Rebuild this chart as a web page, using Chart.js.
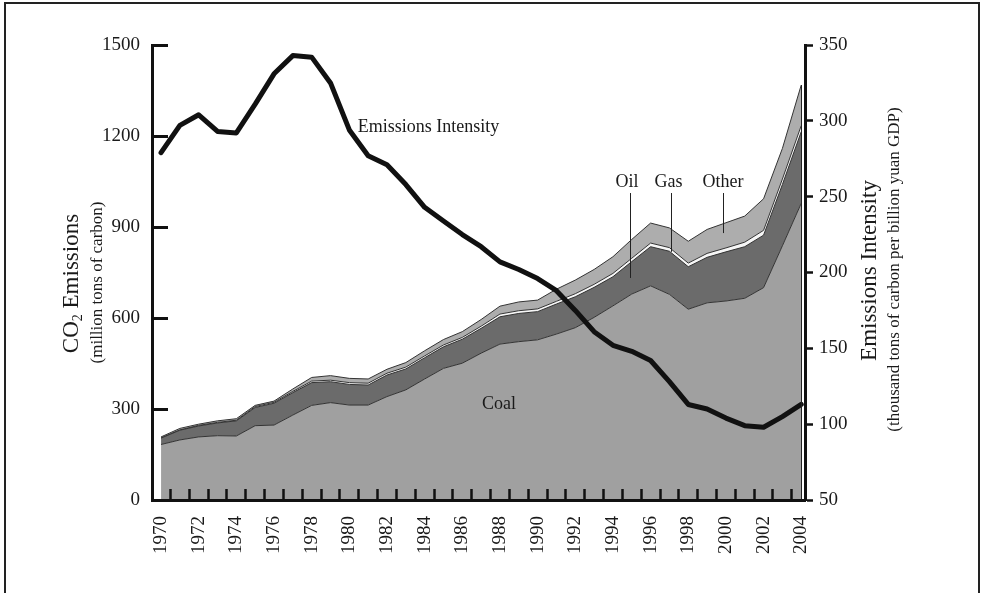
<!DOCTYPE html>
<html>
<head>
<meta charset="utf-8">
<script src="https://cdn.jsdelivr.net/npm/chart.js@4.4.1/dist/chart.umd.min.js"></script>
<style>
  html, body { margin: 0; padding: 0; background: #fff; }
  #wrap { position: relative; width: 982px; height: 593px; overflow: hidden; }
  #frame { position: absolute; left: 4px; top: 2px; width: 972px; height: 640px; border: 2px solid #222; }
  canvas { position: absolute; left: 0; top: 0; }
</style>
</head>
<body>
<div id="wrap">
  <div id="frame"></div>
  <canvas id="emissionsChart" width="982" height="593"></canvas>
</div>
<script>
const years = [1970, 1971, 1972, 1973, 1974, 1975, 1976, 1977, 1978, 1979,
  1980, 1981, 1982, 1983, 1984, 1985, 1986, 1987, 1988, 1989,
  1990, 1991, 1992, 1993, 1994, 1995, 1996, 1997, 1998, 1999,
  2000, 2001, 2002, 2003, 2004];

// million tons of carbon
const coal = [183, 198, 208, 212, 211, 245, 247, 280, 312, 321,
  313, 313, 341, 363, 399, 434, 451, 484, 514, 522,
  528, 547, 568, 602, 640, 679, 706, 678, 629, 650,
  656, 665, 700, 838, 978];
const oil = [21, 32, 36, 42, 50, 60, 72, 74, 75, 69,
  68, 66, 71, 69, 70, 71, 79, 82, 90, 93,
  93, 99, 102, 99, 96, 107, 129, 142, 140, 150,
  162, 170, 173, 202, 236];
const gas = [1, 1, 2, 2, 2, 3, 3, 4, 5, 5,
  6, 6, 6, 6, 6, 6, 6, 7, 9, 9,
  9, 9, 10, 10, 11, 11, 12, 12, 12, 13,
  13, 15, 16, 18, 20];
const other = [3, 5, 4, 5, 5, 4, 4, 8, 12, 15,
  14, 14, 13, 15, 17, 18, 19, 22, 26, 29,
  29, 40, 45, 49, 55, 62, 66, 65, 72, 79,
  83, 86, 104, 101, 134];

// thousand tons of carbon per billion yuan GDP
const intensity = [279, 297, 304, 293, 292, 311, 331, 343, 342, 325,
  294, 277, 271, 258, 243, 234, 225, 217, 207, 202,
  196, 188, 175, 161, 152, 148, 142, 128, 113, 110,
  104, 99, 98, 105, 113];

const emissionTicks = [0, 300, 600, 900, 1200, 1500];
const intensityTicks = [50, 100, 150, 200, 250, 300, 350];

// in-chart labels, placed in data units: [text, year, value, axis]
const seriesLabels = [
  ['Emissions Intensity', 1980.45, 296, 'y2', 'left'],
  ['Coal', 1987.95, 316, 'y', 'center'],
  ['Oil', 1994.75, 1048, 'y', 'center'],
  ['Gas', 1996.95, 1048, 'y', 'center'],
  ['Other', 1999.85, 1048, 'y', 'center']
];
// leader lines: [year, from value, to value]
const leaders = [
  [1994.9, 1012, 732],
  [1997.1, 1012, 818],
  [1999.85, 1012, 880]
];

const serif = "'Liberation Serif', 'DejaVu Serif', serif";
const ink = '#1a1a1a';

const pts = arr => arr.map((v, i) => ({ x: years[i], y: v }));

function area(label, values, color, fill) {
  return {
    label: label,
    data: pts(values),
    yAxisID: 'y',
    backgroundColor: color,
    borderColor: '#333',
    borderWidth: 1,
    fill: fill,
    pointRadius: 0,
    tension: 0
  };
}

const annotate = {
  id: 'annotate',
  afterDatasetsDraw(chart) {
    const ctx = chart.ctx;
    const x = chart.scales.x;
    ctx.save();
    ctx.fillStyle = ink;
    ctx.strokeStyle = '#222';
    ctx.font = '18px ' + serif;
    ctx.textBaseline = 'middle';
    seriesLabels.forEach(([text, yr, val, axis, align]) => {
      ctx.textAlign = align;
      ctx.fillText(text, x.getPixelForValue(yr), chart.scales[axis].getPixelForValue(val));
    });
    ctx.lineWidth = 1;
    leaders.forEach(([yr, v1, v2]) => {
      const px = Math.round(x.getPixelForValue(yr)) + 0.5;
      ctx.beginPath();
      ctx.moveTo(px, chart.scales.y.getPixelForValue(v1));
      ctx.lineTo(px, chart.scales.y.getPixelForValue(v2));
      ctx.stroke();
    });
    // closing edge of the stacked area at the last year
    const last = years.length - 1;
    const top = coal[last] + oil[last] + gas[last] + other[last];
    const ex = Math.round(x.getPixelForValue(years[last])) + 0.5;
    ctx.beginPath();
    ctx.moveTo(ex, chart.scales.y.getPixelForValue(top));
    ctx.lineTo(ex, chart.scales.y.getPixelForValue(0));
    ctx.stroke();
    ctx.restore();
  },
  afterDraw(chart) {
    const ctx = chart.ctx;
    const area = chart.chartArea;
    const midY = (area.top + area.bottom) / 2;
    ctx.save();
    ctx.fillStyle = ink;
    ctx.textAlign = 'center';
    ctx.textBaseline = 'middle';

    // left title: CO2 Emissions with subscript
    ctx.save();
    ctx.translate(area.left - 80, midY + 11);
    ctx.rotate(-Math.PI / 2);
    const big = '23px ' + serif;
    const sub = '14px ' + serif;
    ctx.font = big;
    const wCO = ctx.measureText('CO').width;
    const wRest = ctx.measureText(' Emissions').width;
    ctx.font = sub;
    const w2 = ctx.measureText('2').width;
    let start = -(wCO + w2 + wRest) / 2;
    ctx.textAlign = 'left';
    ctx.font = big;
    ctx.fillText('CO', start, 0);
    ctx.font = sub;
    ctx.fillText('2', start + wCO, 6);
    ctx.font = big;
    ctx.fillText(' Emissions', start + wCO + w2, 0);
    ctx.restore();

    ctx.save();
    ctx.translate(area.left - 54, midY + 10);
    ctx.rotate(-Math.PI / 2);
    ctx.font = '17px ' + serif;
    ctx.fillText('(million tons of carbon)', 0, 0);
    ctx.restore();

    // right title
    ctx.save();
    ctx.translate(area.right + 65, midY - 2);
    ctx.rotate(-Math.PI / 2);
    ctx.font = '23px ' + serif;
    ctx.fillText('Emissions Intensity', 0, 0);
    ctx.restore();

    ctx.save();
    ctx.translate(area.right + 90, midY - 3);
    ctx.rotate(-Math.PI / 2);
    ctx.font = '17px ' + serif;
    ctx.fillText('(thousand tons of carbon per billion yuan GDP)', 0, 0);
    ctx.restore();

    ctx.restore();
  }
};

const chart = new Chart(document.getElementById('emissionsChart'), {
  type: 'line',
  data: {
    datasets: [
      {
        label: 'Emissions Intensity',
        data: pts(intensity),
        yAxisID: 'y2',
        borderColor: '#111',
        borderWidth: 5,
        borderCapStyle: 'round',
        borderJoinStyle: 'round',
        fill: false,
        pointRadius: 0,
        tension: 0
      },
      area('Coal', coal, '#a0a0a0', 'origin'),
      area('Oil', oil, '#6b6b6b', '-1'),
      area('Gas', gas, '#f6f6f6', '-1'),
      area('Other', other, '#adadad', '-1')
    ]
  },
  options: {
    responsive: false,
    animation: false,
    layout: { padding: { top: 45, left: 0, right: 0, bottom: 0 } },
    plugins: {
      legend: { display: false },
      tooltip: { enabled: false }
    },
    scales: {
      x: {
        type: 'linear',
        min: 1969.52,
        max: 2004.2,
        afterBuildTicks: s => { s.ticks = years.map(v => ({ value: v })); },
        afterFit: s => { s.height = 93; },
        ticks: {
          autoSkip: false,
          minRotation: 90,
          maxRotation: 90,
          padding: 27,
          color: ink,
          font: { family: serif, size: 19 },
          callback: v => (v % 2 === 0 ? String(v) : '')
        },
        grid: {
          z: 1,
          offset: true,
          drawOnChartArea: false,
          tickLength: -11,
          tickWidth: 2.5,
          tickColor: '#111'
        },
        border: { z: 1, color: '#111', width: 3 }
      },
      y: {
        type: 'linear',
        position: 'left',
        stacked: true,
        min: 0,
        max: 1500,
        afterBuildTicks: s => { s.ticks = emissionTicks.map(v => ({ value: v })); },
        afterFit: s => { s.width = 152; },
        ticks: {
          padding: 28,
          color: ink,
          font: { family: serif, size: 19 },
          callback: v => String(v)
        },
        grid: {
          z: 1,
          drawOnChartArea: false,
          tickLength: -16,
          tickWidth: 3,
          tickColor: '#111'
        },
        border: { z: 1, color: '#111', width: 3 }
      },
      y2: {
        type: 'linear',
        position: 'right',
        min: 50,
        max: 350,
        afterBuildTicks: s => { s.ticks = intensityTicks.map(v => ({ value: v })); },
        afterFit: s => { s.width = 177; },
        ticks: {
          padding: 6,
          color: ink,
          font: { family: serif, size: 19 },
          callback: v => String(v)
        },
        grid: {
          z: 1,
          drawOnChartArea: false,
          tickLength: 8,
          tickWidth: 2.5,
          tickColor: '#111'
        },
        border: { z: 1, color: '#111', width: 3 }
      }
    }
  },
  plugins: [annotate]
});
</script>
</body>
</html>
